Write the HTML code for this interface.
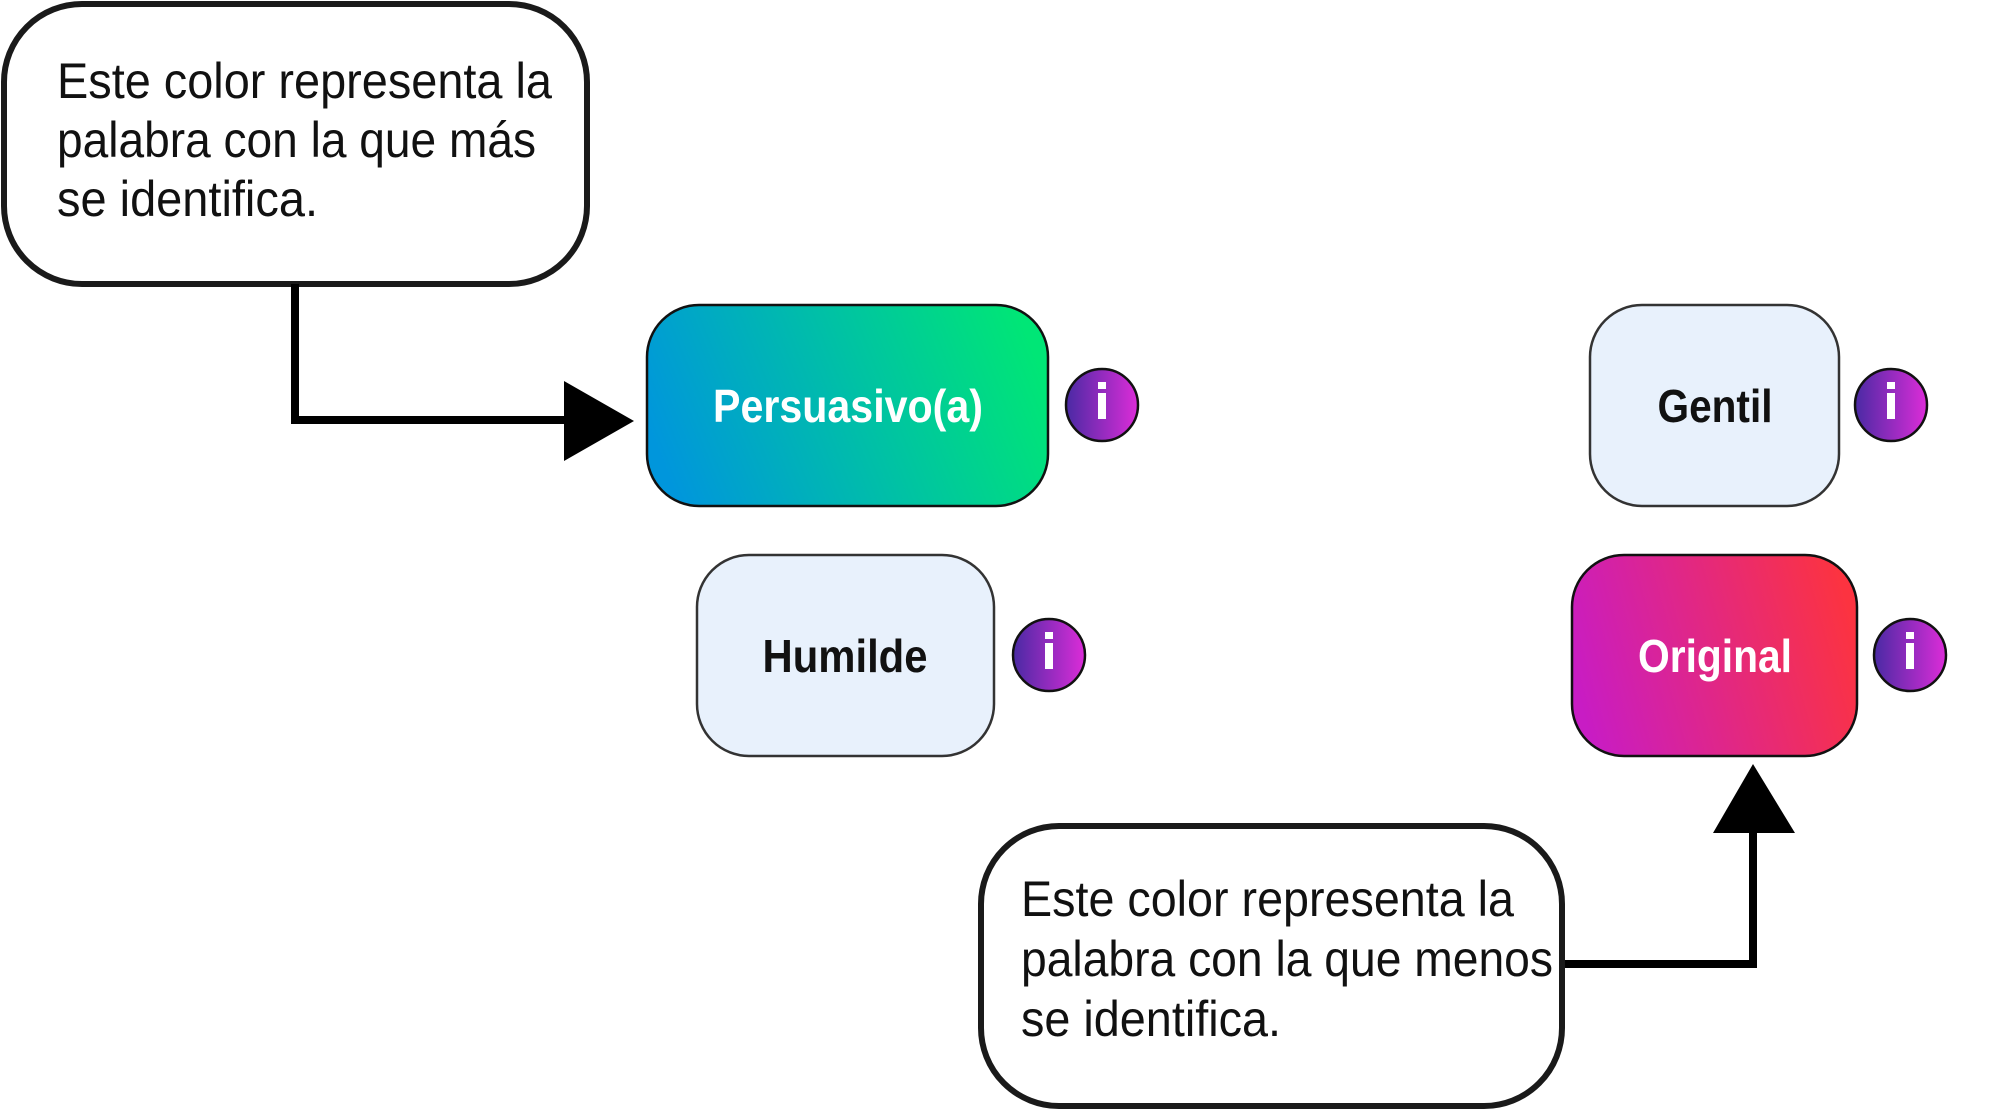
<!DOCTYPE html>
<html><head><meta charset="utf-8"><style>html,body{margin:0;padding:0;background:#fff;width:2009px;height:1111px;overflow:hidden}</style></head>
<body>
<svg width="2009" height="1111" xmlns="http://www.w3.org/2000/svg">
<defs>
<linearGradient id="gp" x1="0" y1="0.6" x2="1" y2="0.4"><stop offset="0" stop-color="#0096dc"/><stop offset="1" stop-color="#00e676"/></linearGradient>
<linearGradient id="go" x1="0" y1="0.6" x2="1" y2="0.4"><stop offset="0" stop-color="#c81cc4"/><stop offset="1" stop-color="#fc3340"/></linearGradient>
<linearGradient id="gi" x1="0" y1="0" x2="1" y2="0"><stop offset="0" stop-color="#4a2aa4"/><stop offset="1" stop-color="#dc2cd8"/></linearGradient>
<g id="info"><circle r="36" fill="url(#gi)" stroke="#111" stroke-width="2.5"/><rect x="-4" y="-12" width="8" height="26" fill="#fff"/><rect x="-4" y="-23" width="8" height="7" fill="#fff"/></g>
</defs>
<g font-family="Liberation Sans, sans-serif">
<!-- top callout -->
<rect x="4" y="4" width="583" height="280" rx="78" fill="#fff" stroke="#1a1a1a" stroke-width="6"/>
<g font-size="50" fill="#111">
<text x="57" y="98" textLength="495" lengthAdjust="spacingAndGlyphs">Este color representa la</text>
<text x="57" y="157" textLength="479" lengthAdjust="spacingAndGlyphs">palabra con la que más</text>
<text x="57" y="216" textLength="261" lengthAdjust="spacingAndGlyphs">se identifica.</text>
</g>
<polyline points="295,284 295,420 570,420" fill="none" stroke="#000" stroke-width="8"/>
<polygon points="564,381 634,421 564,461" fill="#000"/>
<!-- boxes -->
<rect x="647" y="305" width="401" height="201" rx="52" fill="url(#gp)" stroke="#111" stroke-width="2.5"/>
<text x="848" y="422" text-anchor="middle" font-size="46" font-weight="bold" fill="#fff" textLength="270" lengthAdjust="spacingAndGlyphs">Persuasivo(a)</text>
<use href="#info" x="1102" y="405"/>
<rect x="697" y="555" width="297" height="201" rx="52" fill="#e8f1fc" stroke="#333" stroke-width="2.5"/>
<text x="845" y="672" text-anchor="middle" font-size="46" font-weight="bold" fill="#111" textLength="165" lengthAdjust="spacingAndGlyphs">Humilde</text>
<use href="#info" x="1049" y="655"/>
<rect x="1590" y="305" width="249" height="201" rx="52" fill="#e8f1fc" stroke="#333" stroke-width="2.5"/>
<text x="1715" y="422" text-anchor="middle" font-size="46" font-weight="bold" fill="#111" textLength="115" lengthAdjust="spacingAndGlyphs">Gentil</text>
<use href="#info" x="1891" y="405"/>
<rect x="1572" y="555" width="285" height="201" rx="52" fill="url(#go)" stroke="#111" stroke-width="2.5"/>
<text x="1715" y="672" text-anchor="middle" font-size="46" font-weight="bold" fill="#fff" textLength="154" lengthAdjust="spacingAndGlyphs">Original</text>
<use href="#info" x="1910" y="655"/>
<!-- bottom callout -->
<polyline points="1562,964 1753,964 1753,828" fill="none" stroke="#000" stroke-width="8"/>
<polygon points="1713,833 1753,764 1795,833" fill="#000"/>
<rect x="981" y="826" width="581" height="280" rx="78" fill="#fff" stroke="#1a1a1a" stroke-width="6"/>
<g font-size="50" fill="#111">
<text x="1021" y="916" textLength="493" lengthAdjust="spacingAndGlyphs">Este color representa la</text>
<text x="1021" y="976" textLength="532" lengthAdjust="spacingAndGlyphs">palabra con la que menos</text>
<text x="1021" y="1036" textLength="260" lengthAdjust="spacingAndGlyphs">se identifica.</text>
</g>
</g>
</svg>
</body></html>
